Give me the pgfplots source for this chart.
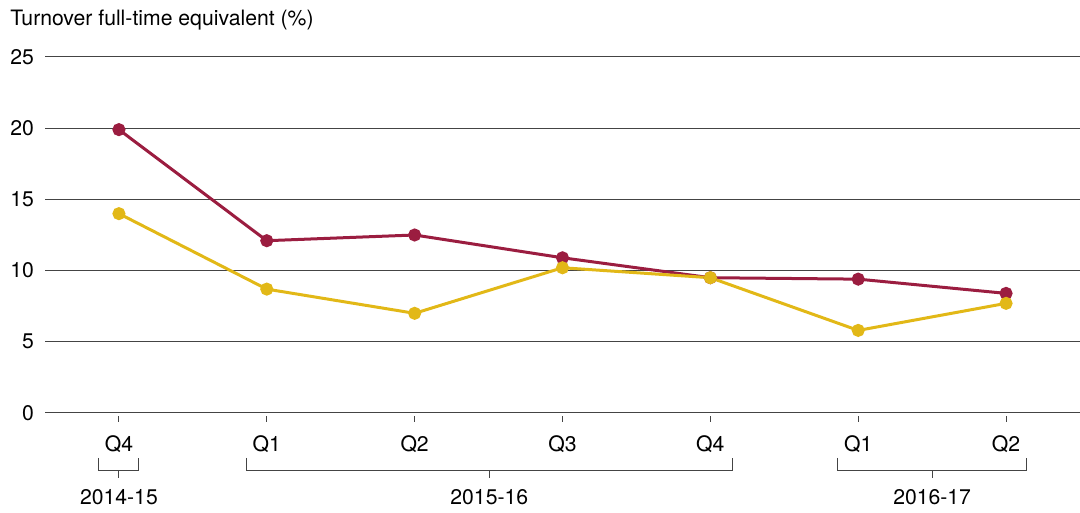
\documentclass[border=0pt]{standalone}
\usepackage{fontspec}
\setmainfont{TeX Gyre Heros}
\usepackage{pgfplots}
\pgfplotsset{compat=1.18}
\definecolor{turnred}{HTML}{9B1D40}
\definecolor{turnyellow}{HTML}{E2B817}
\definecolor{gridgray}{HTML}{444444}

\begin{document}
\begin{tikzpicture}
\useasboundingbox (0,0) rectangle (540pt,256.5pt);
\node[anchor=west, font=\fontsize{10.6}{12}\selectfont, inner sep=0pt] at (5pt,246.5pt) {Turnover full-time equivalent (\%)};
\begin{axis}[
    at={(22.5pt,50pt)}, anchor=south west,
    scale only axis,
    width=517.5pt, height=178pt,
    xmin=-0.5, xmax=6.5,
    ymin=0, ymax=25,
    clip=false,
    axis x line=bottom, axis y line=left,
    axis line style={gridgray, line width=0.5pt, -},
    y axis line style={draw=none},
    xtick={0,...,6},
    xticklabels={Q4,Q1,Q2,Q3,Q4,Q1,Q2},
    ytick={0,5,10,15,20,25},
    ymajorgrids,
    grid style={gridgray, line width=0.5pt},
    major tick length=3pt,
    x tick style={gridgray, line width=0.5pt, yshift=-1.5pt},
    y tick style={draw=none},
    tick align=outside,
    xticklabel style={yshift=-5pt},
    yticklabel style={xshift=1pt},
    ticklabel style={font=\fontsize{10.6}{12}\selectfont, text=black},
    /pgf/number format/assume math mode=true,
    every axis plot/.append style={line width=1.5pt, mark=*, mark size=2.5pt},
]
\addplot[color=turnred, mark options={fill=turnred}] coordinates {
    (0,19.9) (1,12.1) (2,12.5) (3,10.9) (4,9.5) (5,9.4) (6,8.4)
};
\addplot[color=turnyellow, mark options={fill=turnyellow}] coordinates {
    (0,14.0) (1,8.7) (2,7.0) (3,10.2) (4,9.5) (5,5.8) (6,7.7)
};
% year brackets below the quarter labels
\begin{scope}[gridgray, line width=0.5pt]
\draw (axis cs:-0.135,-3.16) -- (axis cs:-0.135,-4.07) -- (axis cs:0.135,-4.07) -- (axis cs:0.135,-3.16);
\draw (axis cs:0,-4.07) -- (axis cs:0,-4.56);
\draw (axis cs:0.86,-3.16) -- (axis cs:0.86,-4.07) -- (axis cs:4.15,-4.07) -- (axis cs:4.15,-3.16);
\draw (axis cs:2.505,-4.07) -- (axis cs:2.505,-4.56);
\draw (axis cs:4.86,-3.16) -- (axis cs:4.86,-4.07) -- (axis cs:6.135,-4.07) -- (axis cs:6.135,-3.16);
\draw (axis cs:5.5,-4.07) -- (axis cs:5.5,-4.56);
\end{scope}
\begin{scope}[font=\fontsize{10.6}{12}\selectfont]
\node at (axis cs:0,-5.9) {2014-15};
\node at (axis cs:2.505,-5.9) {2015-16};
\node at (axis cs:5.5,-5.9) {2016-17};
\end{scope}
\end{axis}
\end{tikzpicture}
\end{document}
